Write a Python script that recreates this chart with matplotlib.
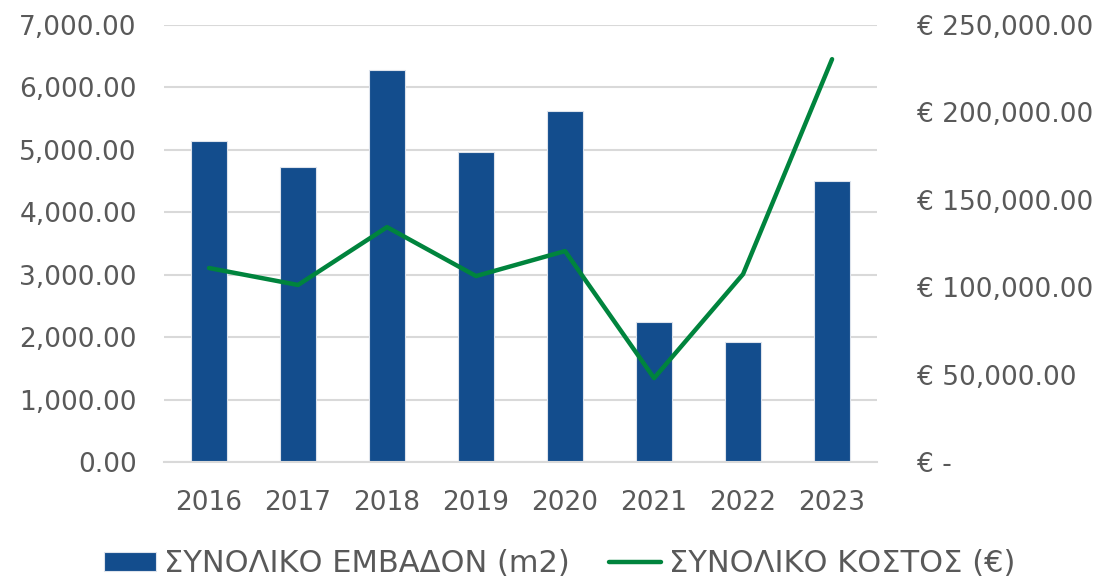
import numpy as np
import matplotlib
matplotlib.use("Agg")
import matplotlib.pyplot as plt
from matplotlib.ticker import FuncFormatter, MultipleLocator

plt.rcParams["font.family"] = ["DejaVu Sans"]

# Δεδομένα
years = ["2016", "2017", "2018", "2019", "2020", "2021", "2022", "2023"]
area_m2 = [5140, 4725, 6280, 4965, 5620, 2240, 1920, 4500]
cost_eur = [111000, 101300, 134400, 106400, 120700, 48000, 107500, 230500]

label_area = "ΣΥΝΟΛΙΚΟ ΕΜΒΑΔΟΝ (m2)"
label_cost = "ΣΥΝΟΛΙΚΟ ΚΟΣΤΟΣ (€)"

bar_color = "#134D8D"
line_color = "#00843D"
text_color = "#595959"
grid_color = "#D9D9D9"
fs = 19

fig = plt.figure(figsize=(11.04, 5.83), dpi=100)
ax = fig.add_axes([0.149, 0.2075, 0.645, 0.7495])
ax2 = ax.twinx()

x = np.arange(len(years))
bars = ax.bar(x, area_m2, width=0.40, color=bar_color, edgecolor="#DDE3EC",
              linewidth=0.8, label=label_area, zorder=2)
line, = ax2.plot(x, cost_eur, color=line_color, linewidth=3.2,
                 label=label_cost, solid_capstyle="round", zorder=3)

ax.set_xlim(-0.5, len(years) - 0.5)
ax.set_ylim(0, 7000)
ax2.set_ylim(0, 250000)
ax.yaxis.set_major_locator(MultipleLocator(1000))
ax2.yaxis.set_major_locator(MultipleLocator(50000))

ax.yaxis.set_major_formatter(FuncFormatter(lambda v, p: f"{v:,.2f}"))
ax2.yaxis.set_major_formatter(
    FuncFormatter(lambda v, p: "€ -" if v == 0 else f"€ {v:,.2f}"))

ax.set_xticks(x)
ax.set_xticklabels(years)

ax.grid(axis="y", color=grid_color, linewidth=1.5, zorder=0)
ax.set_axisbelow(True)

for a in (ax, ax2):
    for s in a.spines.values():
        s.set_visible(False)
ax.spines["bottom"].set_visible(True)
ax.spines["bottom"].set_color(grid_color)
ax.spines["bottom"].set_linewidth(1.5)

ax.tick_params(axis="y", length=0, pad=20, labelsize=fs, labelcolor=text_color)
ax.tick_params(axis="x", length=0, pad=20, labelsize=fs, labelcolor=text_color)
ax2.tick_params(axis="y", length=0, pad=29, labelsize=fs, labelcolor=text_color)

fig.legend(handles=[bars, line], labels=[label_area, label_cost],
           loc="center", bbox_to_anchor=(0.507, 0.033), ncol=2,
           frameon=False, fontsize=22, labelcolor=text_color,
           handlelength=1.7, handleheight=0.55, handletextpad=0.25,
           columnspacing=1.3, borderpad=0.1)

fig.savefig("out.png", dpi=100)
